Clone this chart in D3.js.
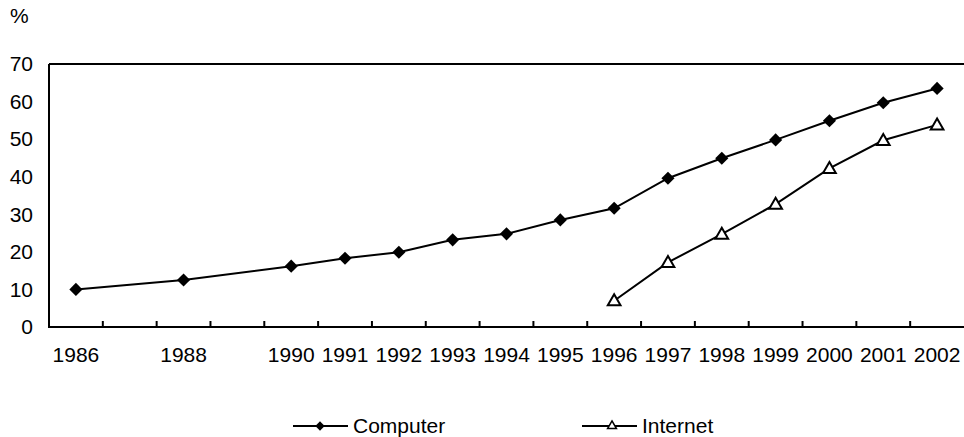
<!DOCTYPE html>
<html>
<head>
<meta charset="utf-8">
<script src="https://cdn.jsdelivr.net/npm/d3@7"></script>
<style>
  body { margin: 0; background: #fff; }
  text { font-family: "Liberation Sans", Arial, sans-serif; fill: #000; }
</style>
</head>
<body>
<svg id="chart"></svg>
<script>
// categories on the x axis (1987 and 1989 have no label and no data)
var years = d3.range(1986, 2003);
var labelYears = [1986, 1988, 1990, 1991, 1992, 1993, 1994, 1995, 1996, 1997, 1998, 1999, 2000, 2001, 2002];
var yTicks = [0, 10, 20, 30, 40, 50, 60, 70];

// Computer series
var computerYears = [1986, 1988, 1990, 1991, 1992, 1993, 1994, 1995, 1996, 1997, 1998, 1999, 2000, 2001, 2002];
var computerValues = [10.0, 12.5, 16.2, 18.3, 19.9, 23.2, 24.8, 28.5, 31.6, 39.6, 44.9, 49.8, 54.9, 59.7, 63.5];

// Internet series
var internetYears = [1996, 1997, 1998, 1999, 2000, 2001, 2002];
var internetValues = [7.0, 17.2, 24.7, 32.7, 42.2, 49.7, 53.8];

var W = 964, H = 437;
var margin = { left: 49, right: 0, top: 64, bottom: 110 };
var fontSize = 21;

var svg = d3.select("#chart").attr("width", W).attr("height", H);

var x = d3.scaleBand().domain(years).range([margin.left, W - margin.right]);
var y = d3.scaleLinear().domain([0, 70]).range([H - margin.bottom, margin.top]);

var x0 = margin.left, x1 = W - margin.right;
var yBottom = y(0), yTop = y(70);

// frame: top, left and bottom lines (no right border)
svg.append("line").attr("x1", x0).attr("x2", x1).attr("y1", yTop).attr("y2", yTop)
  .attr("stroke", "#000").attr("stroke-width", 2);
svg.append("line").attr("x1", x0).attr("x2", x0).attr("y1", yTop).attr("y2", yBottom)
  .attr("stroke", "#000").attr("stroke-width", 2);

// x axis labels
var xAxis = svg.append("g")
  .attr("transform", `translate(0,${yBottom})`)
  .call(d3.axisBottom(x).tickValues(labelYears).tickSize(0).tickPadding(20));
xAxis.select(".domain").remove();
xAxis.selectAll("text").style("font-size", fontSize + "px").attr("font-family", null);

// category boundary ticks pointing up into the plot
svg.append("g").selectAll("line")
  .data(years.slice(1))
  .enter()
  .append("line")
  .attr("x1", (d) => x(d))
  .attr("x2", (d) => x(d))
  .attr("y1", yBottom)
  .attr("y2", yBottom - 6)
  .attr("stroke", "#000")
  .attr("stroke-width", 2);

svg.append("line").attr("x1", x0 - 1).attr("x2", x1).attr("y1", yBottom).attr("y2", yBottom)
  .attr("stroke", "#000").attr("stroke-width", 2);

// y axis labels
var yAxis = svg.append("g")
  .attr("transform", `translate(${x0},0)`)
  .call(d3.axisLeft(y).tickValues(yTicks).tickSize(0).tickPadding(16));
yAxis.select(".domain").remove();
yAxis.selectAll("text").style("font-size", fontSize + "px").attr("font-family", null);

svg.append("text").attr("x", 10).attr("y", 23).style("font-size", fontSize + "px").text("%");

var cx = (d) => x(d) + x.bandwidth() / 2;

var line = d3.line()
  .x((d) => cx(d.year))
  .y((d) => y(d.value));

var computerData = computerYears.map((yr, i) => ({ year: yr, value: computerValues[i] }));
var internetData = internetYears.map((yr, i) => ({ year: yr, value: internetValues[i] }));

var diamond = d3.symbol().type(d3.symbolDiamond2);
var triangle = d3.symbol().type(d3.symbolTriangle);

svg.append("path").datum(computerData).attr("d", line)
  .attr("fill", "none").attr("stroke", "#000").attr("stroke-width", 2);
svg.append("path").datum(internetData).attr("d", line)
  .attr("fill", "none").attr("stroke", "#000").attr("stroke-width", 2);

svg.append("g").selectAll("path")
  .data(computerData)
  .enter()
  .append("path")
  .attr("d", diamond.size(110))
  .attr("transform", (d) => `translate(${cx(d.year)},${y(d.value)})`)
  .attr("fill", "#000");

svg.append("g").selectAll("path")
  .data(internetData)
  .enter()
  .append("path")
  .attr("d", triangle.size(70))
  .attr("transform", (d) => `translate(${cx(d.year)},${y(d.value) + 1})`)
  .attr("fill", "#fff")
  .attr("stroke", "#000")
  .attr("stroke-width", 2);

// legend
var legendY = 426;
var legend = [
  { name: "Computer", x: 293, marker: "diamond" },
  { name: "Internet", x: 582, marker: "triangle" },
];
legend.forEach((l) => {
  var g = svg.append("g").attr("transform", `translate(${l.x},${legendY})`);
  g.append("line").attr("x1", 0).attr("x2", 55).attr("y1", 0).attr("y2", 0)
    .attr("stroke", "#000").attr("stroke-width", 2);
  if (l.marker == "diamond") {
    g.append("path").attr("d", diamond.size(55)).attr("transform", "translate(27,0)").attr("fill", "#000");
  } else {
    g.append("path").attr("d", triangle.size(34)).attr("transform", "translate(30,0)")
      .attr("fill", "#fff").attr("stroke", "#000").attr("stroke-width", 1.5);
  }
  g.append("text").attr("x", 60).attr("y", 0).attr("dy", "0.35em")
    .style("font-size", fontSize + "px").text(l.name);
});
</script>
</body>
</html>
